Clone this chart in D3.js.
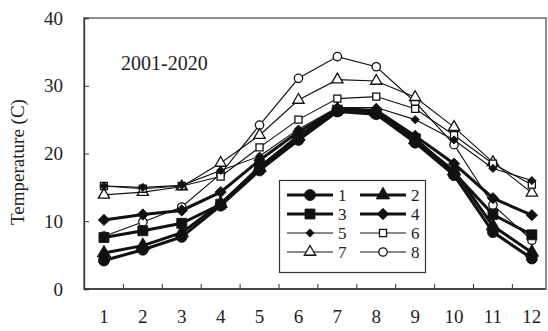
<!DOCTYPE html>
<html>
<head>
<meta charset="utf-8">
<script src="https://cdn.jsdelivr.net/npm/d3@7"></script>
<style>
  html, body { margin: 0; padding: 0; background: #fff; }
  svg { display: block; }
  svg text { font-family: "Liberation Serif", "DejaVu Serif", serif !important; fill: #222; }
</style>
</head>
<body>
<svg id="chart" width="548" height="331"></svg>
<script>
// Monthly mean temperature, 2001-2020, for eight stations
const months = ["1","2","3","4","5","6","7","8","9","10","11","12"];
const yTicks = [0, 10, 20, 30, 40];
const seriesNames = ["1","2","3","4","5","6","7","8"];

const s1 = [4.2, 5.8, 7.7, 12.3, 17.5, 22.0, 26.2, 25.8, 21.6, 16.8, 8.4, 4.5];
const s2 = [5.3, 6.4, 8.3, 12.6, 17.9, 22.5, 26.5, 26.1, 22.0, 17.4, 9.3, 5.4];
const s3 = [7.6, 8.6, 9.7, 12.5, 18.0, 22.6, 26.4, 26.0, 22.2, 17.2, 11.0, 8.0];
const s4 = [10.2, 11.0, 11.6, 14.3, 19.0, 23.2, 26.6, 26.4, 22.6, 18.5, 13.4, 10.9];
const s5 = [15.2, 15.0, 15.3, 17.5, 19.6, 23.6, 26.8, 26.8, 25.0, 22.0, 17.8, 16.0];
const s6 = [15.2, 14.8, 15.2, 16.6, 20.9, 25.0, 28.1, 28.4, 26.6, 22.7, 18.5, 15.4];
const s7 = [13.9, 14.3, 15.1, 18.6, 22.7, 27.9, 30.9, 30.7, 28.3, 23.9, 18.7, 14.2];
const s8 = [7.8, 9.9, 12.1, 17.0, 24.2, 31.1, 34.3, 32.8, 27.6, 21.3, 12.4, 7.2];

const values = [s1, s2, s3, s4, s5, s6, s7, s8];

// Styling per series: thick lines with filled markers, thin lines with small/open markers
const styles = [
  { sym: "circle",   size: 95,  fill: "#111", width: 3.0 },
  { sym: "triangle", size: 80,  fill: "#111", width: 3.0 },
  { sym: "square",   size: 100, fill: "#111", width: 3.0 },
  { sym: "diamond",  size: 64,  fill: "#111", width: 3.0 },
  { sym: "diamond",  size: 34,  fill: "#111", width: 1.1 },
  { sym: "square",   size: 50,  fill: "#fff", width: 1.1 },
  { sym: "triangle", size: 55,  fill: "#fff", width: 1.1 },
  { sym: "circle",   size: 55,  fill: "#fff", width: 1.1 }
];

const symbolType = { circle: d3.symbolCircle, triangle: d3.symbolTriangle,
                     square: d3.symbolSquare, diamond: d3.symbolSquare };

const svg = d3.select("#chart");
const plotLeft = 84, plotTop = 18, plotBottom = 289, plotRight = 546;

const x = d3.scaleBand().domain(months).range([84.5, 551.3]).padding(0);
const y = d3.scaleLinear().domain([0, 40]).range([plotBottom, plotTop]);
const cx = m => x(m) + x.bandwidth() / 2;

// Plot frame
svg.append("rect")
  .attr("x", plotLeft).attr("y", plotTop)
  .attr("width", plotRight - plotLeft).attr("height", plotBottom - plotTop)
  .attr("fill", "none").attr("stroke", "#555").attr("stroke-width", 1.3);

// Y axis: inward ticks
const yAxis = svg.append("g").attr("transform", `translate(${plotLeft},0)`)
  .call(d3.axisLeft(y).tickValues(yTicks).tickSize(-5).tickPadding(21).tickFormat(d3.format("d")));
yAxis.attr("font-family", null);
yAxis.select(".domain").attr("stroke", "#333").attr("stroke-width", 1.3);
yAxis.selectAll(".tick line").attr("stroke", "#333");
yAxis.selectAll(".tick text").style("font-size", "19px").attr("fill", "#222");

// X axis: inward ticks at category boundaries, labels centred on months
const xAxis = svg.append("g").attr("transform", `translate(0,${plotBottom})`);
xAxis.append("line").attr("x1", plotLeft).attr("x2", plotRight)
  .attr("stroke", "#333").attr("stroke-width", 1.5);
xAxis.selectAll("line.tick").data(months.slice(1)).join("line")
  .attr("class", "tick")
  .attr("x1", d => x(d)).attr("x2", d => x(d))
  .attr("y1", 0).attr("y2", -5).attr("stroke", "#333");
xAxis.selectAll("text").data(months).join("text")
  .attr("x", d => cx(d)).attr("y", 34)
  .attr("text-anchor", "middle").style("font-size", "19px").text(d => d);

// Y label
svg.append("text")
  .attr("transform", `translate(24,162) rotate(-90)`)
  .attr("text-anchor", "middle").style("font-size", "19px")
  .text("Temperature (C)");

// Period annotation
svg.append("text").attr("x", 121).attr("y", 70)
  .style("font-size", "20px").text("2001-2020");

const line = d3.line().x((d, i) => cx(months[i])).y(d => y(d));

function marker(sel, st) {
  sel.attr("d", d3.symbol().type(symbolType[st.sym]).size(st.size))
    .attr("fill", st.fill).attr("stroke", "#111")
    .attr("stroke-width", st.fill === "#fff" ? 1.3 : 0.8);
}

// Thin series first, thick series on top
const order = [7, 6, 5, 4, 3, 2, 1, 0];
order.forEach(k => {
  const st = styles[k];
  const g = svg.append("g");
  g.append("path").datum(values[k]).attr("d", line)
    .attr("fill", "none").attr("stroke", "#111").attr("stroke-width", st.width);
  g.selectAll("path.m").data(values[k]).join("path").attr("class", "m")
    .attr("transform", (d, i) => `translate(${cx(months[i])},${y(d)})` + (st.sym === "diamond" ? " rotate(45)" : ""))
    .call(marker, st);
});

// Legend
const lg = svg.append("g");
lg.append("rect").attr("x", 279.5).attr("y", 180.5).attr("width", 146).attr("height", 92)
  .attr("fill", "#fff").attr("stroke", "#333").attr("stroke-width", 1.2);
const colX = [287, 360];
const rowY = [195, 214, 233, 252];
seriesNames.forEach((name, k) => {
  const st = styles[k];
  const x0 = colX[k % 2], yy = rowY[Math.floor(k / 2)];
  lg.append("line").attr("x1", x0).attr("x2", x0 + 46).attr("y1", yy).attr("y2", yy)
    .attr("stroke", "#111").attr("stroke-width", st.width);
  lg.append("path")
    .attr("transform", `translate(${x0 + 23},${yy})` + (st.sym === "diamond" ? " rotate(45)" : ""))
    .call(marker, st);
  lg.append("text").attr("x", x0 + 51).attr("y", yy + 6)
    .style("font-size", "17px").text(name);
});
</script>
</body>
</html>
